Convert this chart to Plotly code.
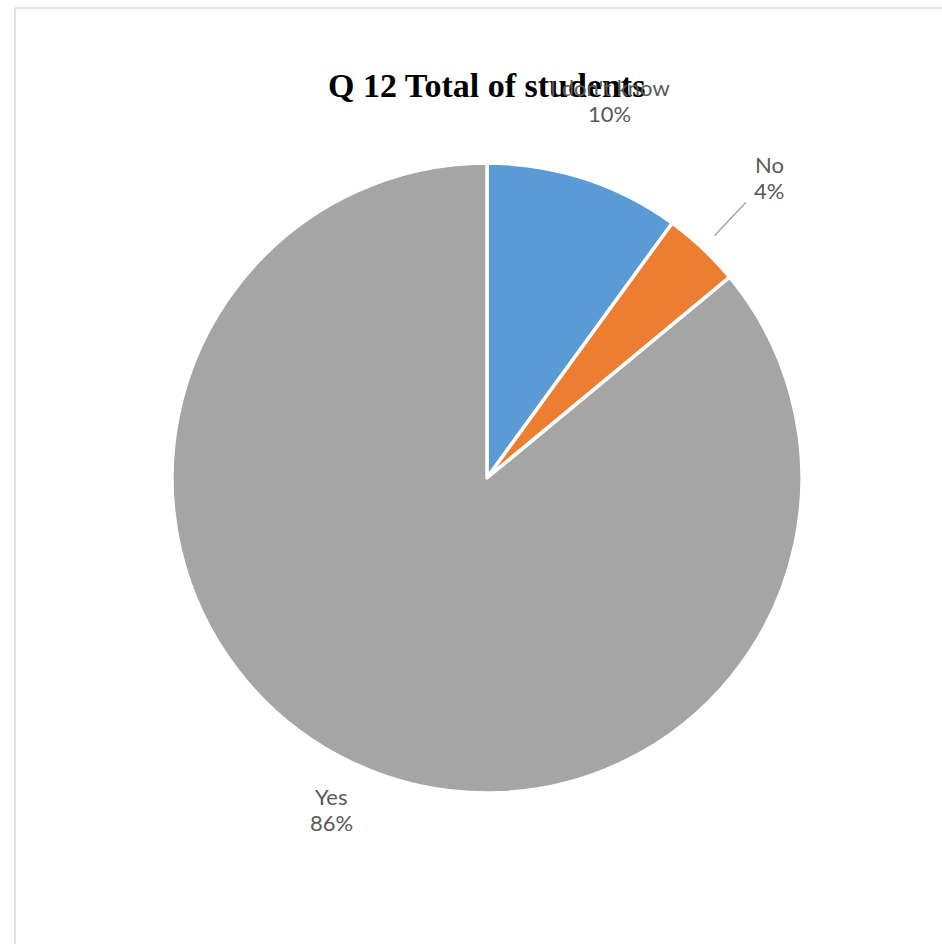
import math
import plotly.graph_objects as go

# Survey answers for question 12
categories = ["I don't know", "No", "Yes"]
percentages = [10, 4, 86]
slice_colors = ["#5B9BD5", "#ED7D31", "#A5A5A5"]

W, H = 942, 944
CX, CY, R = 487, 478, 315           # pie centre and radius in pixels
label_radius_px = [397, 412, 366]   # distance of each data label from the centre
LINE_GAP = 26                       # vertical spacing between label lines, px

fig = go.Figure(
    go.Pie(
        labels=categories,
        values=percentages,
        sort=False,
        direction="clockwise",
        rotation=0,
        textinfo="none",
        hoverinfo="label+percent",
        marker=dict(colors=slice_colors, line=dict(color="white", width=3.5)),
        domain=dict(x=[(CX - R) / W, (CX + R) / W], y=[1 - (CY + R) / H, 1 - (CY - R) / H]),
        showlegend=False,
    )
)

# Chart title (drawn first so the data labels sit on top)
annotations = [
    dict(
        text="<b>Q 12 Total of students</b>",
        x=486 / W, y=1 - 86 / H, xref="paper", yref="paper",
        xanchor="center", yanchor="middle",
        showarrow=False,
        font=dict(family="Liberation Serif", size=34, color="#000000"),
    )
]

# Data labels (category name over percentage) at the middle angle of each slice
total = sum(percentages)
label_font = dict(family="Lato", size=22, color="#595959")
cum = 0
for name, val, rad in zip(categories, percentages, label_radius_px):
    mid = (cum + val / 2) / total * 2 * math.pi
    cum += val
    px = CX + rad * math.sin(mid)
    py = CY - rad * math.cos(mid)
    for line, dy in ((name, -LINE_GAP / 2), (f"{round(val / total * 100)}%", LINE_GAP / 2)):
        annotations.append(
            dict(
                text=line,
                x=px / W, y=1 - (py + dy) / H, xref="paper", yref="paper",
                xanchor="center", yanchor="middle",
                showarrow=False, font=label_font,
            )
        )

# Leader line for the small "No" slice
no_mid = (percentages[0] + percentages[1] / 2) / total * 2 * math.pi
r0, r1 = 1.055 * R, 1.20 * R
shapes = [
    dict(
        type="line", xref="paper", yref="paper",
        x0=(CX + r0 * math.sin(no_mid)) / W, y0=1 - (CY - r0 * math.cos(no_mid)) / H,
        x1=(CX + r1 * math.sin(no_mid)) / W, y1=1 - (CY - r1 * math.cos(no_mid)) / H,
        line=dict(color="#A6A6A6", width=1.5),
    ),
    # Chart area frame
    dict(type="line", xref="paper", yref="paper", x0=15 / W, y0=1 - 8 / H, x1=1, y1=1 - 8 / H,
         line=dict(color="#D9D9D9", width=1.5)),
    dict(type="line", xref="paper", yref="paper", x0=15 / W, y0=1 - 8 / H, x1=15 / W, y1=0,
         line=dict(color="#D9D9D9", width=1.5)),
]

fig.update_layout(
    width=W, height=H,
    margin=dict(l=0, r=0, t=0, b=0),
    paper_bgcolor="white", plot_bgcolor="white",
    annotations=annotations,
    shapes=shapes,
)

fig.write_html("out.html")
